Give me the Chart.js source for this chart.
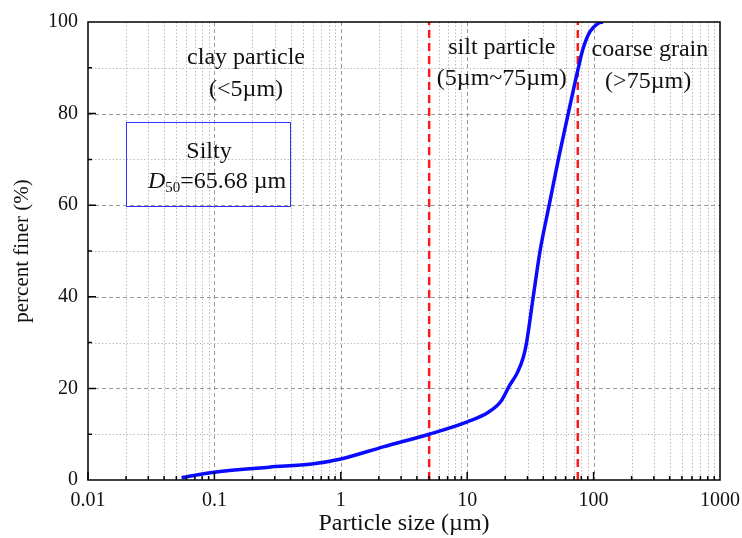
<!DOCTYPE html>
<html>
<head>
<meta charset="utf-8">
<script src="https://cdn.jsdelivr.net/npm/chart.js@4.4.0/dist/chart.umd.min.js"></script>
<style>
  html, body { margin: 0; padding: 0; background: #fff; }
  #wrap { width: 742px; height: 538px; }
</style>
</head>
<body>
<div id="wrap"><canvas id="psdChart" width="742" height="538"></canvas></div>
<script>
// particle size distribution
var sizes = [0.055, 0.1, 0.27, 0.59, 1.0, 2.2, 5.0, 10, 14.7, 18.5, 21.5, 25, 27.8, 29.5, 33.3, 37.7, 44.5, 52.6, 63, 75.7, 82.8, 93.6, 109, 118];
var finer = [0.5, 1.7, 2.8, 3.5, 4.6, 7.3, 10.0, 12.7, 14.8, 17.2, 20.5, 23.5, 26.8, 30, 40, 50, 60, 70, 80, 90, 94.3, 97.9, 99.7, 100];
var limitSizes = [5, 75];
var xTicks = [0.01, 0.1, 1, 10, 100, 1000];
var yTicks = [0, 20, 40, 60, 80, 100];

var serif = '"Liberation Serif", "DejaVu Serif", serif';

var curve = sizes.map(function(s, i) { return { x: s, y: finer[i] }; });

var datasets = [{
    label: 'PSD',
    data: curve,
    borderColor: '#0a0aff',
    borderWidth: 3.5,
    pointRadius: 0,
    cubicInterpolationMode: 'monotone',
    fill: false
}];
limitSizes.forEach(function(s) {
    datasets.push({
        label: 'limit ' + s,
        data: [{ x: s, y: 0 }, { x: s, y: 100 }],
        borderColor: '#ff1a1a',
        borderWidth: 2.5,
        borderDash: [8, 5],
        pointRadius: 0,
        fill: false
    });
});

// text placed in data units (x in µm, y in %)
var labels = [
    { text: 'clay particle', x: 0.178, y: 92.3 },
    { text: '(<5\u00b5m)', x: 0.178, y: 85.2 },
    { text: 'silt particle', x: 18.8, y: 94.3 },
    { text: '(5\u00b5m~75\u00b5m)', x: 18.8, y: 87.6 },
    { text: 'coarse grain', x: 279, y: 93.9 },
    { text: '(>75\u00b5m)', x: 270, y: 87.0 },
    { text: 'Silty', x: 0.0906, y: 71.7 }
];

var decoPlugin = {
    id: 'deco',
    beforeDatasetsDraw: function(chart) {
        var ctx = chart.ctx, a = chart.chartArea;
        var xs = chart.scales.x, ys = chart.scales.y;
        ctx.save();
        ctx.lineWidth = 1;
        // minor vertical
        ctx.strokeStyle = '#bdbdbd';
        ctx.setLineDash([1.5, 2]);
        for (var n = -2; n < 3; n++) {
            for (var k = 2; k < 10; k++) {
                var px = Math.round(xs.getPixelForValue(k * Math.pow(10, n))) + 0.5;
                ctx.beginPath(); ctx.moveTo(px, a.top); ctx.lineTo(px, a.bottom); ctx.stroke();
            }
        }
        [10, 30, 50, 70, 90].forEach(function(v) {
            var py = Math.round(ys.getPixelForValue(v)) + 0.5;
            ctx.beginPath(); ctx.moveTo(a.left, py); ctx.lineTo(a.right, py); ctx.stroke();
        });
        // major
        ctx.strokeStyle = '#9a9a9a';
        ctx.setLineDash([4, 3]);
        xTicks.slice(1, -1).forEach(function(v) {
            var px = Math.round(xs.getPixelForValue(v)) + 0.5;
            ctx.beginPath(); ctx.moveTo(px, a.top); ctx.lineTo(px, a.bottom); ctx.stroke();
        });
        yTicks.slice(1, -1).forEach(function(v) {
            var py = Math.round(ys.getPixelForValue(v)) + 0.5;
            ctx.beginPath(); ctx.moveTo(a.left, py); ctx.lineTo(a.right, py); ctx.stroke();
        });
        ctx.restore();
    },
    afterDatasetsDraw: function(chart) {
        var ctx = chart.ctx, a = chart.chartArea;
        var xs = chart.scales.x, ys = chart.scales.y;
        ctx.save();
        // frame
        ctx.setLineDash([]);
        ctx.strokeStyle = '#000';
        ctx.lineWidth = 1.5;
        ctx.strokeRect(a.left, a.top, a.right - a.left, a.bottom - a.top);
        // inward ticks
        ctx.beginPath();
        for (var n = -2; n < 3; n++) {
            for (var k = 1; k < 10; k++) {
                var px = xs.getPixelForValue(k * Math.pow(10, n));
                ctx.moveTo(px, a.bottom); ctx.lineTo(px, a.bottom - (k === 1 ? 8 : 4));
            }
        }
        for (var v = 10; v < 100; v += 10) {
            var py = ys.getPixelForValue(v);
            ctx.moveTo(a.left, py); ctx.lineTo(a.left + (v % 20 === 0 ? 8 : 4), py);
        }
        ctx.stroke();

        // info box
        var bx1 = xs.getPixelForValue(0.02), bx2 = xs.getPixelForValue(0.4);
        var by1 = ys.getPixelForValue(78.2), by2 = ys.getPixelForValue(59.8);
        ctx.strokeStyle = '#3030ff';
        ctx.lineWidth = 1;
        ctx.strokeRect(Math.round(bx1) + 0.5, Math.round(by1) + 0.5, Math.round(bx2 - bx1), Math.round(by2 - by1));

        // text
        ctx.fillStyle = '#111';
        ctx.textAlign = 'center';
        ctx.textBaseline = 'middle';
        ctx.font = '24px ' + serif;
        labels.forEach(function(l) {
            ctx.fillText(l.text, xs.getPixelForValue(l.x), ys.getPixelForValue(l.y));
        });

        // D50 line with italic D and subscript
        var cx = xs.getPixelForValue(0.105), cy = ys.getPixelForValue(65.1);
        var fMain = '24px ' + serif, fIt = 'italic 24px ' + serif, fSub = '15px ' + serif;
        var rest = '=65.68 \u00b5m';
        ctx.font = fIt; var wD = ctx.measureText('D').width;
        ctx.font = fSub; var wS = ctx.measureText('50').width;
        ctx.font = fMain; var wR = ctx.measureText(rest).width;
        var x0 = cx - (wD + wS + wR) / 2;
        ctx.textAlign = 'left';
        ctx.font = fIt; ctx.fillText('D', x0, cy);
        ctx.font = fSub; ctx.fillText('50', x0 + wD, cy + 6);
        ctx.font = fMain; ctx.fillText(rest, x0 + wD + wS, cy);
        ctx.restore();
    }
};

var chart = new Chart(document.getElementById('psdChart').getContext('2d'), {
    type: 'line',
    data: { datasets: datasets },
    options: {
        responsive: false,
        animation: false,
        devicePixelRatio: 1,
        layout: { padding: { left: 0, right: 22, top: 22, bottom: 0 } },
        plugins: {
            legend: { display: false },
            tooltip: { enabled: false }
        },
        scales: {
            x: {
                type: 'logarithmic',
                min: 0.01,
                max: 1000,
                afterBuildTicks: function(scale) {
                    scale.ticks = xTicks.map(function(v) { return { value: v }; });
                },
                afterFit: function(scale) {
                    scale.height = 58;
                    scale.paddingLeft = 0;
                    scale.paddingRight = 0;
                },
                grid: { display: false, drawTicks: false },
                border: { display: false },
                ticks: {
                    autoSkip: false,
                    maxRotation: 0,
                    padding: 9,
                    color: '#111',
                    font: { family: serif, size: 20 },
                    callback: function(v) { return String(v); }
                },
                title: {
                    display: true,
                    text: 'Particle size (\u00b5m)',
                    color: '#111',
                    font: { family: serif, size: 24 },
                    padding: { top: 0, bottom: 0 }
                }
            },
            y: {
                type: 'linear',
                min: 0,
                max: 100,
                afterBuildTicks: function(scale) {
                    scale.ticks = yTicks.map(function(v) { return { value: v }; });
                },
                afterFit: function(scale) {
                    scale.width = 88;
                    scale.paddingTop = 0;
                    scale.paddingBottom = 0;
                },
                grid: { display: false, drawTicks: false },
                border: { display: false },
                ticks: {
                    padding: 10,
                    color: '#111',
                    font: { family: serif, size: 20 }
                },
                title: {
                    display: true,
                    text: 'percent finer (%)',
                    color: '#111',
                    font: { family: serif, size: 21 },
                    padding: { top: 10, bottom: 0 }
                }
            }
        }
    },
    plugins: [decoPlugin]
});
</script>
</body>
</html>
